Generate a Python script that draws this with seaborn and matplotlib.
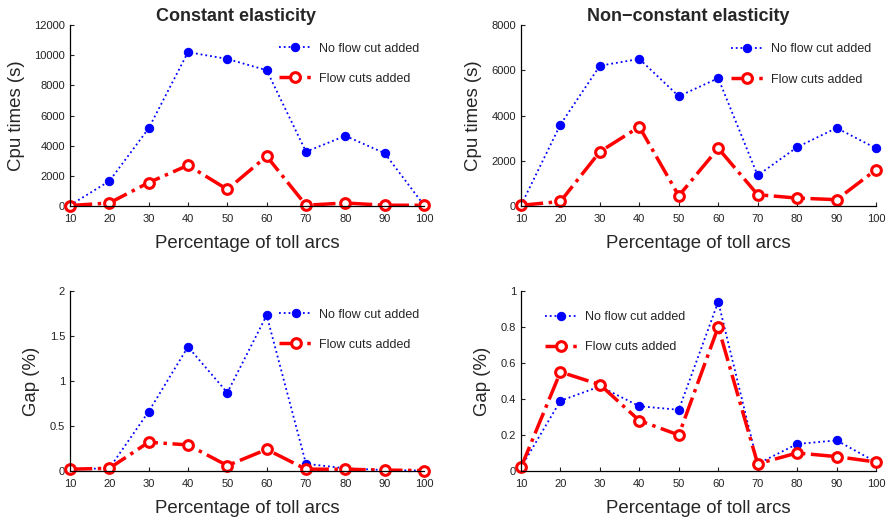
import matplotlib
matplotlib.use("Agg")
import matplotlib.pyplot as plt
import seaborn as sns
import pandas as pd

sns.set_style("ticks")
plt.rcParams['font.family'] = ['Liberation Sans', 'DejaVu Sans']

pct = [10, 20, 30, 40, 50, 60, 70, 80, 90, 100]

cpu_const_nocut = [50, 1650, 5150, 10200, 9750, 9000, 3600, 4650, 3500, 50]
cpu_const_cut = [30, 200, 1550, 2700, 1100, 3300, 50, 200, 50, 50]
cpu_nonconst_nocut = [30, 3600, 6200, 6500, 4850, 5650, 1350, 2600, 3450, 2550]
cpu_nonconst_cut = [30, 200, 2400, 3500, 450, 2550, 500, 350, 280, 1600]

gap_const_nocut = [0.02, 0.03, 0.66, 1.38, 0.87, 1.73, 0.08, 0.03, 0.01, 0.005]
gap_const_cut = [0.02, 0.03, 0.32, 0.29, 0.06, 0.24, 0.02, 0.02, 0.01, 0.005]
gap_nonconst_nocut = [0.02, 0.39, 0.47, 0.36, 0.34, 0.94, 0.04, 0.15, 0.17, 0.05]
gap_nonconst_cut = [0.02, 0.55, 0.48, 0.28, 0.20, 0.80, 0.04, 0.10, 0.08, 0.05]

titles = ["Constant elasticity", "Non\u2212constant elasticity"]
label_nocut = "No flow cut added"
label_cut = "Flow cuts added"

fig = plt.figure(figsize=(8.88, 5.21), dpi=100)
W, H = 888, 521
def ax_at(x0, x1, y0, y1):
    return fig.add_axes([x0 / W, 1 - y1 / H, (x1 - x0) / W, (y1 - y0) / H])

axes = [
    ax_at(70, 424, 25, 206),
    ax_at(521, 876, 25, 206),
    ax_at(70, 424, 291, 471),
    ax_at(521, 876, 291, 471),
]

panels = [
    (cpu_const_nocut, cpu_const_cut, "Cpu times (s)", (0, 12000), [0, 2000, 4000, 6000, 8000, 10000, 12000], titles[0], (0.558, 0.965)),
    (cpu_nonconst_nocut, cpu_nonconst_cut, "Cpu times (s)", (0, 8000), [0, 2000, 4000, 6000, 8000], titles[1], (0.56, 0.96)),
    (gap_const_nocut, gap_const_cut, "Gap (%)", (0, 2), [0, 0.5, 1, 1.5, 2], None, (0.56, 0.965)),
    (gap_nonconst_nocut, gap_nonconst_cut, "Gap (%)", (0, 1), [0, 0.2, 0.4, 0.6, 0.8, 1], None, (0.035, 0.95)),
]

for ax, (nocut, cut, ylab, ylim, yticks, title, legpos) in zip(axes, panels):
    df1 = pd.DataFrame({"x": pct, "y": nocut})
    df2 = pd.DataFrame({"x": pct, "y": cut})
    sns.lineplot(data=df1, x="x", y="y", ax=ax, color="#0000ff", linestyle=":",
                 linewidth=1.3, marker="o", markersize=6, markerfacecolor="#0000ff",
                 markeredgecolor="#0000ff", label=label_nocut, clip_on=False)
    sns.lineplot(data=df2, x="x", y="y", ax=ax, color="#ff0000", linestyle="-.",
                 linewidth=2.5, marker="o", markersize=7, markerfacecolor="white",
                 markeredgecolor="#ff0000", markeredgewidth=2.2, label=label_cut, clip_on=False)
    ax.set_xlim(10, 100)
    ax.set_ylim(*ylim)
    ax.set_xticks(pct)
    ax.set_yticks(yticks)
    ax.set_yticklabels([("%g" % t) for t in yticks])
    ax.tick_params(direction="in", length=3, labelsize=8, colors="#222222", width=0.8)
    ax.tick_params(axis="x", pad=6)
    sns.despine(ax=ax)
    for s in ["left", "bottom"]:
        ax.spines[s].set_color("black")
        ax.spines[s].set_linewidth(0.9)
    ax.set_xlabel("Percentage of toll arcs", fontsize=13.4, labelpad=8)
    ax.set_ylabel(ylab, fontsize=13.4, labelpad=7)
    if title:
        ax.set_title(title, fontsize=13, fontweight="bold", pad=2, x=0.47)
    leg = ax.legend(loc="upper left", bbox_to_anchor=legpos, frameon=False,
                    fontsize=9, handlelength=2.6, labelspacing=1.45, handletextpad=0.6)

fig.savefig("out.png", dpi=100)
